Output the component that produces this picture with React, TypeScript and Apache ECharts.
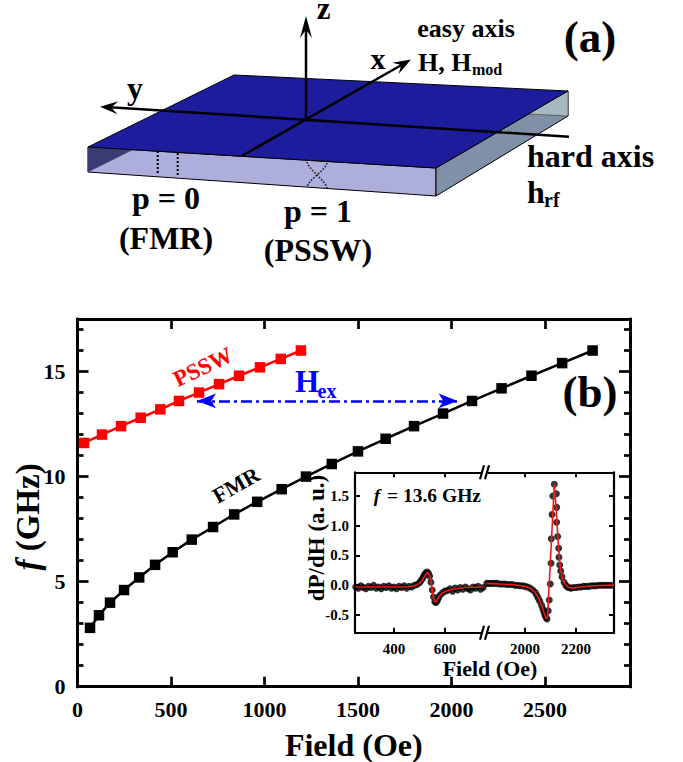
import React, { useEffect, useRef } from "react";
import * as echarts from "echarts";

const FONT = "Liberation Serif";

// Main panel (b)
const fmrField = [67, 115, 174, 249, 330, 415, 509, 611, 725, 838, 961, 1092, 1222, 1360, 1500, 1648, 1800, 1955, 2110, 2268, 2428, 2592, 2755];
const fmrFreq = [2.8, 3.4, 4, 4.6, 5.2, 5.8, 6.4, 7, 7.6, 8.2, 8.8, 9.4, 10, 10.6, 11.2, 11.8, 12.4, 13, 13.6, 14.2, 14.8, 15.4, 16];
const psswField = [35, 131, 233, 338, 443, 543, 650, 757, 864, 976, 1087, 1195];
const psswFreq = [11.6, 12, 12.4, 12.8, 13.2, 13.6, 14, 14.4, 14.8, 15.2, 15.6, 16];
const mainXTicks = [0, 500, 1000, 1500, 2000, 2500];
const mainYMajor = [0, 5, 10, 15];
const mainYMinor = [1, 2, 3, 4, 6, 7, 8, 9, 11, 12, 13, 14, 16, 17];
const hexSpan = [[639, 13.6], [2033, 13.6]];

// Inset, low-field side of the break
const leftField = [250, 260, 270, 280, 290, 300, 310, 320, 330, 340, 350, 360, 370, 380, 390, 400, 410, 420, 430, 440, 450, 460, 470, 480, 490, 500, 505, 510, 515, 520, 525, 530, 535, 540, 545, 550, 555, 560, 565, 570, 575, 580, 590, 600, 610, 620, 630, 640, 650, 660, 670, 680, 690, 700, 710, 720, 730, 740, 750];
const leftDots = [-0.03, -0.05, -0.01, -0.04, -0.06, -0.02, -0.04, 0.0, -0.05, -0.03, -0.06, -0.02, -0.04, -0.01, -0.05, -0.03, -0.06, -0.02, -0.04, -0.01, -0.05, -0.02, -0.03, 0.0, 0.01, 0.04, 0.07, 0.1, 0.14, 0.18, 0.21, 0.22, 0.2, 0.15, 0.05, -0.08, -0.2, -0.28, -0.29, -0.26, -0.21, -0.17, -0.13, -0.1, -0.09, -0.06, -0.1, -0.05, -0.08, -0.04, -0.07, -0.03, -0.06, -0.08, -0.03, -0.05, -0.02, -0.07, -0.04];
const leftFitField = [250, 350, 450, 480, 500, 510, 520, 530, 535, 545, 550, 555, 560, 565, 575, 590, 610, 640, 680, 750];
const leftFit = [-0.03, -0.03, -0.03, -0.01, 0.03, 0.08, 0.15, 0.21, 0.21, 0.07, -0.08, -0.21, -0.28, -0.28, -0.2, -0.13, -0.09, -0.06, -0.04, -0.03];

// Inset, high-field side of the break
const rightField = [1850, 1860, 1870, 1880, 1890, 1900, 1910, 1920, 1930, 1940, 1950, 1960, 1970, 1980, 1990, 2000, 2010, 2020, 2030, 2040, 2046, 2052, 2058, 2065, 2070, 2074, 2078, 2082, 2086, 2091, 2095, 2099, 2102, 2103, 2106, 2109, 2115, 2123, 2124, 2124, 2128, 2132, 2133, 2136, 2140, 2145, 2153, 2160, 2166, 2172, 2180, 2190, 2200, 2210, 2220, 2230, 2240, 2250, 2260, 2270, 2280, 2290, 2300, 2310, 2320, 2330, 2340];
const rightDots = [0.03, 0.03, 0.03, 0.03, 0.03, 0.02, 0.02, 0.02, 0.01, 0.01, 0.01, 0.0, 0.0, -0.01, -0.01, -0.02, -0.03, -0.05, -0.08, -0.12, -0.17, -0.22, -0.27, -0.34, -0.4, -0.45, -0.5, -0.54, -0.57, -0.43, -0.25, 0.02, 0.37, 0.78, 1.19, 1.5, 1.7, 1.54, 1.31, 1.06, 0.82, 0.62, 0.47, 0.34, 0.24, 0.14, 0.05, 0.0, -0.03, -0.04, -0.05, -0.04, -0.04, -0.03, -0.03, -0.02, -0.02, -0.02, -0.01, -0.01, -0.01, 0.0, 0.0, 0.0, 0.0, 0.0, 0.0];
const rightFitField = [1850, 1900, 1950, 2000, 2020, 2040, 2055, 2065, 2075, 2083, 2088, 2115, 2122, 2130, 2138, 2146, 2155, 2168, 2185, 2220, 2270, 2350];
const rightFit = [0.03, 0.02, 0.01, -0.02, -0.05, -0.12, -0.24, -0.34, -0.47, -0.56, -0.55, 1.7, 1.3, 0.72, 0.3, 0.13, 0.03, -0.03, -0.05, -0.03, -0.01, 0.0];

const insetXLeftTicks = [400, 600];
const insetXRightTicks = [2000, 2200];
const insetYTicks = [-0.5, 0, 0.5, 1, 1.5];

const pair = (xs: number[], ys: number[]) => xs.map((x, i) => [x, ys[i]]);

function xAxis(gridIndex: number, position: string, min: number, max: number, ticks: number[], len: number, width: number, labelSize: number, extra: any = {}) {
  return {
    type: "value", gridIndex, position, min, max, scale: true,
    splitLine: { show: false },
    axisLine: { show: true, onZero: false, lineStyle: { color: "#000", width } },
    axisTick: { show: true, inside: true, length: len, customValues: ticks, lineStyle: { color: "#000", width: width * 0.9 } },
    axisLabel: position === "bottom"
      ? { show: true, customValues: ticks, margin: labelSize === 22 ? 12 : 9, color: "#000", fontFamily: FONT, fontWeight: "bold", fontSize: labelSize, formatter: (v: number) => String(v), showMinLabel: true, showMaxLabel: true }
      : { show: false },
    ...extra,
  };
}
function yAxis(gridIndex: number, position: string, min: number, max: number, ticks: number[], len: number, width: number, labelSize: number, fmt: any, extra: any = {}) {
  return {
    type: "value", gridIndex, position, min, max, scale: true,
    splitLine: { show: false },
    axisLine: { show: true, onZero: false, lineStyle: { color: "#000", width } },
    axisTick: { show: true, inside: true, length: len, customValues: ticks, lineStyle: { color: "#000", width: width * 0.9 } },
    axisLabel: labelSize > 0
      ? { show: true, customValues: ticks, margin: labelSize === 22 ? 12 : 6, color: "#000", fontFamily: FONT, fontWeight: "bold", fontSize: labelSize, formatter: fmt, showMinLabel: true, showMaxLabel: true }
      : { show: false },
    ...extra,
  };
}

function T(text: string, x: number, y: number, size: number, opts: any = {}) {
  const { rotation, fill, style } = opts;
  return {
    type: "text", x, y, rotation: rotation || 0, z: 20,
    style: { text, fontFamily: FONT, fontWeight: "bold", fontSize: size, fill: fill || "#000", align: opts.align || "center", verticalAlign: "middle", ...style },
  };
}
const poly = (points: number[][], fill: string, stroke = "#000", lineWidth = 1) => ({
  type: "polygon", z: 10, shape: { points }, style: { fill, stroke, lineWidth },
});
const seg = (x1: number, y1: number, x2: number, y2: number, lineWidth: number, extra: any = {}) => ({
  type: "line", z: 12, shape: { x1, y1, x2, y2 }, style: { stroke: "#000", lineWidth, ...extra },
});
function arrowHead(tx: number, ty: number, fx: number, fy: number, size = 18, half = 6.5) {
  const a = Math.atan2(ty - fy, tx - fx);
  const c = Math.cos(a), s = Math.sin(a);
  return {
    type: "polygon", z: 13,
    shape: { points: [
      [tx, ty],
      [tx - size * c + half * s, ty - size * s - half * c],
      [tx - size * 0.62 * c, ty - size * 0.62 * s],
      [tx - size * c - half * s, ty - size * s + half * c],
    ] },
    style: { fill: "#000" },
  };
}
const curve = (x1: number, y1: number, cpx1: number, cpy1: number, cpx2: number, cpy2: number, x2: number, y2: number) => ({
  type: "bezierCurve", z: 12, shape: { x1, y1, cpx1, cpy1, cpx2, cpy2, x2, y2 },
  style: { stroke: "#222", fill: "none", lineWidth: 1.6, lineDash: [1.6, 1.6] },
});
const breakMark = (x: number, y: number) => [
  { type: "rect", shape: { x: x - 3, y: y - 2, width: 6, height: 4 }, style: { fill: "#fff" } },
  seg(x - 5, y + 7, x - 1, y - 7, 2.2),
  seg(x + 0, y + 7, x + 4, y - 7, 2.2),
].map((e: any) => ({ ...e, z: 19 }));

export default function App() {
  const ref = useRef<HTMLDivElement>(null);
  useEffect(() => {
    const chart = echarts.init(ref.current!, undefined, { renderer: "svg" });
    const fmt1 = (v: number) => v.toFixed(1);
    const G = [
      { left: 77.5, top: 319, width: 552.5, height: 367.7 },
      { left: 355, top: 472.3, width: 130, height: 160.4 },
      { left: 485, top: 472.3, width: 129, height: 160.4 },
    ];
    const option: any = {
      animation: false,
      backgroundColor: "#fff",
      grid: G.map((g) => ({ ...g, containLabel: false, outerBoundsMode: "none" })),
      xAxis: [
        xAxis(0, "bottom", 0, 2955, mainXTicks, 10, 3, 22, {
          name: "Field (Oe)", nameLocation: "middle", nameGap: 42, nameMoveOverlap: false,
          nameTextStyle: { fontFamily: FONT, fontWeight: "bold", fontSize: 32, color: "#000" },
        }),
        xAxis(0, "top", 0, 2955, mainXTicks, 10, 3, 0),
        xAxis(1, "bottom", 247, 757, insetXLeftTicks, 5, 2.2, 15),
        xAxis(1, "top", 247, 757, insetXLeftTicks, 5, 2.2, 0),
        xAxis(2, "bottom", 1843, 2349, insetXRightTicks, 5, 2.2, 15),
        xAxis(2, "top", 1843, 2349, insetXRightTicks, 5, 2.2, 0),
      ],
      yAxis: [
        yAxis(0, "left", 0, 17.5, mainYMajor, 11, 3, 22, (v: number) => String(v), {
          name: "{i|f}{r| (GHz)}", nameLocation: "middle", nameGap: 33, nameRotate: 90, nameMoveOverlap: false,
          nameTextStyle: {
            padding: [0, 28, 0, 0],
            rich: {
              i: { fontFamily: FONT, fontWeight: "bold", fontStyle: "italic", fontSize: 33, color: "#000" },
              r: { fontFamily: FONT, fontWeight: "bold", fontSize: 33, color: "#000" },
            },
          },
        }),
        yAxis(0, "left", 0, 17.5, mainYMinor, 6, 3, 0, null),
        yAxis(0, "right", 0, 17.5, mainYMajor, 11, 3, 0, null),
        yAxis(0, "right", 0, 17.5, mainYMinor, 6, 3, 0, null),
        yAxis(1, "left", -0.8, 1.9, insetYTicks, 5, 2.2, 15, fmt1, {
          name: "dP/dH (a. u.)", nameLocation: "middle", nameGap: 27, nameRotate: 90, nameMoveOverlap: false,
          nameTextStyle: { fontFamily: FONT, fontWeight: "bold", fontSize: 23, color: "#000", padding: [0, 0, 0, 29] },
        }),
        yAxis(2, "right", -0.8, 1.9, insetYTicks, 5, 2.2, 0, null),
      ],
      series: [
        {
          name: "FMR", type: "line", xAxisIndex: 0, yAxisIndex: 0, data: pair(fmrField, fmrFreq),
          symbol: "rect", symbolSize: 10.5, showSymbol: true, lineStyle: { color: "#000", width: 2.5 }, itemStyle: { color: "#000" },
        },
        {
          name: "PSSW", type: "line", xAxisIndex: 0, yAxisIndex: 0, data: pair(psswField, psswFreq),
          symbol: "rect", symbolSize: 10.5, showSymbol: true, lineStyle: { color: "#f00", width: 2.5 }, itemStyle: { color: "#f00" },
        },
        {
          name: "Hex", type: "line", xAxisIndex: 0, yAxisIndex: 0, data: [], silent: true,
          markLine: {
            silent: true, symbol: ["arrow", "arrow"], symbolSize: [11, 19], label: { show: false },
            lineStyle: { color: "#00f", width: 2.6, type: [11, 4, 3, 4] },
            data: [[{ coord: hexSpan[0] }, { coord: hexSpan[1] }]],
          },
        },
        {
          name: "data low", type: "scatter", xAxisIndex: 2, yAxisIndex: 4, data: pair(leftField, leftDots),
          symbol: "circle", symbolSize: 7, itemStyle: { color: "#000" }, z: 5,
        },
        {
          name: "fit low", type: "line", xAxisIndex: 2, yAxisIndex: 4, data: pair(leftFitField, leftFit),
          showSymbol: false, lineStyle: { color: "#f01818", width: 1.6 }, z: 6,
        },
        {
          name: "data high", type: "scatter", xAxisIndex: 4, yAxisIndex: 5, data: pair(rightField, rightDots),
          symbol: "circle", symbolSize: 7, itemStyle: { color: "#000" }, z: 5,
        },
        {
          name: "fit high", type: "line", xAxisIndex: 4, yAxisIndex: 5, data: pair(rightFitField, rightFit),
          showSymbol: false, lineStyle: { color: "#f01818", width: 1.6 }, z: 6,
        },
      ],
      graphic: { elements: [
        // slab
        poly([[88, 147], [436, 168], [436, 196], [88, 172]], "#aeaedd"),
        poly([[88, 147], [133, 149.6], [88, 172]], "#3c3c74", "#3c3c74", 0.5),
        poly([[436, 168], [568, 91], [568, 116], [436, 196]], "#8090a8"),
        poly([[568, 91], [527, 114], [568, 116]], "#a8b8c0", "#333", 0.6),
        poly([[88, 147], [234, 75], [568, 91], [436, 168]], "#1c1c9c"),
        seg(157.7, 151, 157.7, 175, 2, { lineDash: [2, 2] }),
        seg(177.7, 153, 177.7, 177, 2, { lineDash: [2, 2] }),
        curve(307, 162, 309, 170, 325, 180, 327, 188),
        curve(327, 163, 325, 171, 309, 179, 307, 187),
        // axes
        seg(569, 136.7, 106, 107, 2.5),
        seg(241.7, 156, 405, 63, 2.5),
        seg(306, 119.5, 306, 30, 2.5),
        arrowHead(100, 106.7, 306, 119.5),
        arrowHead(411, 59.5, 241.7, 156),
        arrowHead(306, 16, 306, 119.5, 22, 6),
        T("z", 323.5, 8, 31, { style: { lineHeight: 16 } }),
        T("y", 135, 88, 32),
        T("x", 378, 58, 30),
        T("easy axis", 466, 28, 26),
        T("H, H", 418, 62, 26, { align: "left" }),
        T("mod", 472, 69, 16, { align: "left" }),
        T("(a)", 590, 37, 45),
        T("hard axis", 527, 156, 32, { align: "left" }),
        T("h", 527, 192, 32, { align: "left" }),
        T("rf", 544, 200, 20, { align: "left" }),
        T("p = 0", 166, 198, 32),
        T("(FMR)", 166, 238, 32),
        T("p = 1", 318, 211, 32),
        T("(PSSW)", 318, 250, 32),
        // labels of panel (b)
        T("(b)", 590, 392, 45),
        T("PSSW", 203, 367, 23, { fill: "#f00", rotation: 0.45 }),
        T("FMR", 236, 485, 22, { rotation: 0.52 }),
        T("H", 307, 381, 31, { fill: "#00f" }),
        T("ex", 327, 391, 20, { fill: "#00f" }),
        T("f", 377, 495, 19.5, { style: { fontStyle: "italic" } }),
        T("= 13.6 GHz", 387, 495, 19.5, { align: "left" }),
        T("Field (Oe)", 490, 668, 22),
        ...breakMark(485, 472.3),
        ...breakMark(485, 632.7),
      ] },
    };
    chart.setOption(option);
    return () => chart.dispose();
  }, []);
  return <div ref={ref} style={{ position: "absolute", left: 0, top: 0, width: 683, height: 762 }} />;
}
